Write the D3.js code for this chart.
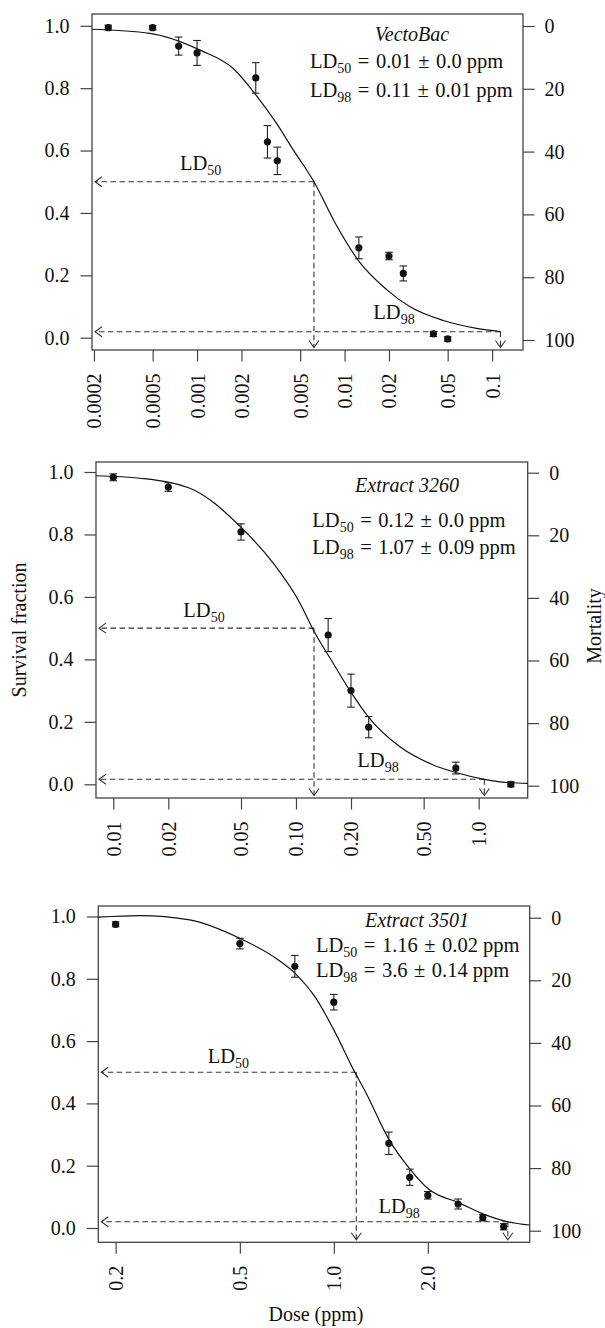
<!DOCTYPE html>
<html><head><meta charset="utf-8">
<script src="https://cdn.jsdelivr.net/npm/d3@7/dist/d3.min.js"></script>
<style>
body{margin:0;background:#fff}
svg{display:block}
text{font-family:"Liberation Serif","Times New Roman",serif;fill:#111}
</style>
</head><body>
<svg id="c" width="605" height="1328"></svg>
<script>
// ---------------- DATA ----------------
const titles = ["VectoBac", "Extract 3260", "Extract 3501"];
const ld50Vals = [["0.01", "0.0"], ["0.12", "0.0"], ["1.16", "0.02"]];
const ld98Vals = [["0.11", "0.01"], ["1.07", "0.09"], ["3.6", "0.14"]];

const dose1 = [0.00025, 0.0005, 0.00075, 0.001, 0.0025, 0.003, 0.0035, 0.0125, 0.02, 0.025, 0.04, 0.05];
const surv1 = [0.994, 0.994, 0.935, 0.913, 0.833, 0.628, 0.567, 0.288, 0.262, 0.206, 0.012, -0.004];
const err1  = [0.008, 0.007, 0.029, 0.040, 0.049, 0.052, 0.044, 0.035, 0.012, 0.024, 0.008, 0.007];

const dose2 = [0.01, 0.02, 0.05, 0.15, 0.2, 0.25, 0.75, 1.5];
const surv2 = [0.983, 0.952, 0.808, 0.478, 0.300, 0.183, 0.052, 0.0];
const err2  = [0.011, 0.014, 0.026, 0.053, 0.053, 0.034, 0.019, 0.008];

const dose3 = [0.2, 0.5, 0.75, 1.0, 1.5, 1.75, 2.0, 2.5, 3.0, 3.5];
const surv3 = [0.975, 0.913, 0.840, 0.725, 0.272, 0.163, 0.105, 0.077, 0.033, 0.004];
const err3  = [0.008, 0.017, 0.035, 0.025, 0.036, 0.026, 0.012, 0.016, 0.010, 0.010];

// fitted curves
const fitDose1 = [0.000194, 0.000479, 0.00105, 0.00176, 0.00248, 0.00346, 0.00449, 0.0062, 0.00865, 0.0126, 0.0192, 0.0278, 0.0467, 0.0786, 0.114];
const fitSurv1 = [0.989, 0.976, 0.922, 0.863, 0.781, 0.687, 0.602, 0.5, 0.367, 0.243, 0.155, 0.099, 0.055, 0.030, 0.0195];
const fitDose2 = [0.00804, 0.014, 0.0263, 0.05, 0.0751, 0.1052, 0.1244, 0.16, 0.2018, 0.2487, 0.371, 0.564, 0.758, 1.073, 1.308, 1.855];
const fitSurv2 = [0.988, 0.980, 0.948, 0.823, 0.708, 0.58, 0.494, 0.387, 0.291, 0.216, 0.120, 0.062, 0.037, 0.016, 0.008, 0.003];
const fitDose3 = [0.176, 0.2388, 0.3455, 0.4996, 0.6388, 0.7555, 0.880, 0.995, 1.176, 1.254, 1.504, 1.764, 2.010, 2.529, 3.045, 3.533, 4.239];
const fitSurv3 = [0.998, 1.003, 0.989, 0.930, 0.872, 0.815, 0.735, 0.64, 0.494, 0.443, 0.283, 0.186, 0.125, 0.080, 0.043, 0.022, 0.0096];

// lethal-dose guides
const ld50Dose = [0.0062, 0.1255, 1.18];
const ld98Dose = [0.114, 1.074, 3.61];
const ld98Level = [0.019, 0.016, 0.02];

// ticks
const xTicks1 = [0.0002, 0.0005, 0.001, 0.002, 0.005, 0.01, 0.02, 0.05, 0.1];
const xTickLabels1 = ["0.0002", "0.0005", "0.001", "0.002", "0.005", "0.01", "0.02", "0.05", "0.1"];
const xTicks2 = [0.01, 0.02, 0.05, 0.1, 0.2, 0.5, 1.0];
const xTickLabels2 = ["0.01", "0.02", "0.05", "0.10", "0.20", "0.50", "1.0"];
const xTicks3 = [0.2, 0.5, 1.0, 2.0];
const xTickLabels3 = ["0.2", "0.5", "1.0", "2.0"];
const yTicks = [0, 0.2, 0.4, 0.6, 0.8, 1.0];
const yTickLabels = ["0.0", "0.2", "0.4", "0.6", "0.8", "1.0"];
const mortTicks = [0, 20, 40, 60, 80, 100];
const mortTickLabels = ["0", "20", "40", "60", "80", "100"];
const yTitle = "Survival fraction", y2Title = "Mortality", xTitle = "Dose (ppm)";

// ---------------- LAYOUT ----------------
const FS = 20.5, TFS = 20, SUB = 14, TK = 11.5, AX = "#444", DASH = "#333";
const layout = [
  {box:{l:92,r:523,t:14,b:350}, xDom:[0.000194,0.162], y0:337.7, y1:25.8, m0:26, m100:340,
   title:[412,40.7], ldX:310, ldY:[68.3,96.7], lab50:[180,170], lab98:[373.3,319.3]},
  {box:{l:96,r:527.7,t:462,b:798}, xDom:[0.00804,1.855], y0:784.3, y1:472, m0:472.7, m100:785.7,
   title:[407,491.7], ldX:312.3, ldY:[527.3,554], lab50:[183.3,616.7], lab98:[357.3,767.3]},
  {box:{l:98.3,r:529.7,t:906,b:1242.3}, xDom:[0.176,4.24], y0:1228, y1:916.5, m0:917.7, m100:1230.7,
   title:[417,927.3], ldX:316, ldY:[952.3,976.7], lab50:[207.7,1062.7], lab98:[378.4,1212.7]}
];
const panels = [
  {dose:dose1, surv:surv1, err:err1, fd:fitDose1, fs:fitSurv1, xt:xTicks1, xl:xTickLabels1},
  {dose:dose2, surv:surv2, err:err2, fd:fitDose2, fs:fitSurv2, xt:xTicks2, xl:xTickLabels2},
  {dose:dose3, surv:surv3, err:err3, fd:fitDose3, fs:fitSurv3, xt:xTicks3, xl:xTickLabels3}
];

const svg = d3.select("#c");

function ldLabel(g, x, y, sub, vals, gap) {
  const t = g.append("text").attr("x", x).attr("y", y).attr("font-size", FS);
  t.append("tspan").text("LD");
  t.append("tspan").attr("font-size", SUB).attr("dy", 5).text(sub);
  if (vals) {
    t.append("tspan").attr("dy", -5).attr("dx", gap).text("=");
    t.append("tspan").attr("dx", gap).text(vals[0]);
    t.append("tspan").attr("dx", gap).text("\u00B1");
    t.append("tspan").attr("dx", gap).text(vals[1] + " ppm");
  }
}

function arrowLeft(g, tx, ty) {
  g.append("path").attr("d", `M${tx+7},${ty-5}L${tx},${ty}L${tx+7},${ty+5}`)
    .attr("fill", "none").attr("stroke", DASH).attr("stroke-width", 1.1);
}
function arrowDown(g, tx, ty) {
  g.append("path").attr("d", `M${tx-5},${ty-7}L${tx},${ty}L${tx+5},${ty-7}`)
    .attr("fill", "none").attr("stroke", DASH).attr("stroke-width", 1.1);
}

panels.forEach((p, i) => {
  const L = layout[i], b = L.box;
  const x = d3.scaleLog().domain(L.xDom).range([b.l, b.r]);
  const y = d3.scaleLinear().domain([0, 1]).range([L.y0, L.y1]);
  const m = d3.scaleLinear().domain([0, 100]).range([L.m0, L.m100]);
  const g = svg.append("g");

  const la = g.append("g").attr("transform", `translate(${b.l},0)`)
    .call(d3.axisLeft(y).tickValues(yTicks).tickFormat((v, k) => yTickLabels[k]).tickSize(TK).tickPadding(11));
  const ra = g.append("g").attr("transform", `translate(${b.r},0)`)
    .call(d3.axisRight(m).tickValues(mortTicks).tickFormat((v, k) => mortTickLabels[k]).tickSize(TK).tickPadding(10));
  const ba = g.append("g").attr("transform", `translate(0,${b.b})`)
    .call(d3.axisBottom(x).tickValues(p.xt).tickFormat((v, k) => p.xl[k]).tickSize(TK));
  ba.selectAll("text").attr("transform", "rotate(-90)").attr("x", -23.5).attr("y", 0)
    .attr("dy", "0.35em").style("text-anchor", "end");
  [la, ra, ba].forEach(a => {
    a.select(".domain").remove();
    a.selectAll("line").attr("stroke", AX).attr("stroke-width", 1.2);
    a.selectAll("text").attr("font-size", TFS).attr("fill", "#111");
    a.attr("font-family", null).attr("font-size", null);
  });

  g.append("rect").attr("x", b.l).attr("y", b.t).attr("width", b.r - b.l).attr("height", b.b - b.t)
    .attr("fill", "none").attr("stroke", AX).attr("stroke-width", 1.3);

  const yl50 = y(0.5), x50 = x(ld50Dose[i]);
  const yl98 = y(ld98Level[i]), x98 = x(ld98Dose[i]);
  const gd = g.append("g").attr("fill", "none").attr("stroke", DASH).attr("stroke-width", 1.1)
    .attr("stroke-dasharray", "5.5,3.5");
  gd.append("line").attr("x1", x50).attr("y1", yl50).attr("x2", b.l + 3).attr("y2", yl50);
  gd.append("line").attr("x1", x50).attr("y1", yl50).attr("x2", x50).attr("y2", b.b - 2.5);
  gd.append("line").attr("x1", x98).attr("y1", yl98).attr("x2", b.l + 3).attr("y2", yl98);
  gd.append("line").attr("x1", x98).attr("y1", yl98).attr("x2", x98).attr("y2", b.b - 2.5);
  arrowLeft(g, b.l + 3, yl50); arrowLeft(g, b.l + 3, yl98);
  arrowDown(g, x50, b.b - 2.5); arrowDown(g, x98, b.b - 2.5);

  const line = d3.line().x(d => x(d[0])).y(d => y(d[1])).curve(d3.curveMonotoneX);
  g.append("path").datum(d3.zip(p.fd, p.fs)).attr("d", line)
    .attr("fill", "none").attr("stroke", "#111").attr("stroke-width", 1.2);

  const pts = d3.zip(p.dose, p.surv, p.err);
  const eb = g.append("g").attr("stroke", "#222").attr("stroke-width", 1.1);
  pts.forEach(d => {
    const cx = x(d[0]), yt = y(d[1] + d[2]), ybm = y(d[1] - d[2]);
    eb.append("line").attr("x1", cx).attr("x2", cx).attr("y1", yt).attr("y2", ybm);
    eb.append("line").attr("x1", cx - 3.8).attr("x2", cx + 3.8).attr("y1", yt).attr("y2", yt);
    eb.append("line").attr("x1", cx - 3.8).attr("x2", cx + 3.8).attr("y1", ybm).attr("y2", ybm);
  });
  g.append("g").selectAll("circle").data(pts).join("circle")
    .attr("cx", d => x(d[0])).attr("cy", d => y(d[1])).attr("r", 3.6).attr("fill", "#111");

  g.append("text").attr("x", L.title[0]).attr("y", L.title[1]).attr("font-size", FS - 0.5)
    .attr("font-style", "italic").attr("text-anchor", "middle").text(titles[i]);
  ldLabel(g, L.ldX, L.ldY[0], "50", ld50Vals[i], 6.5);
  ldLabel(g, L.ldX, L.ldY[1], "98", ld98Vals[i], 6.5);
  ldLabel(g, L.lab50[0], L.lab50[1], "50", null);
  ldLabel(g, L.lab98[0], L.lab98[1], "98", null);
});

svg.append("text").attr("transform", "translate(18.5,630) rotate(-90)").attr("dy", "0.35em")
  .attr("text-anchor", "middle").attr("font-size", TFS).text(yTitle);
svg.append("text").attr("transform", "translate(594,626) rotate(-90)").attr("dy", "0.35em")
  .attr("text-anchor", "middle").attr("font-size", TFS).text(y2Title);
svg.append("text").attr("x", 316).attr("y", 1321).attr("text-anchor", "middle")
  .attr("font-size", TFS).text(xTitle);
</script>
</body></html>
